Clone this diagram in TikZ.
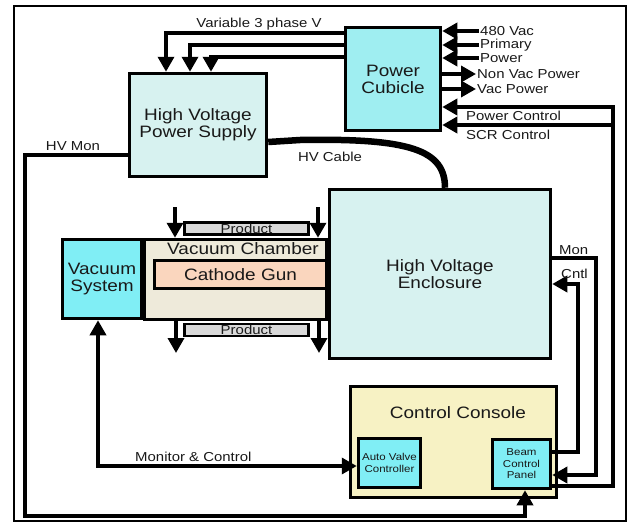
\documentclass[tikz,border=0pt]{standalone}
\usepackage{fontspec}
\setmainfont{Liberation Sans}[FakeStretch=1.15]
\usepackage{tikz}
\usepackage{xcolor}
\usetikzlibrary{arrows.meta}
\definecolor{jasny}{HTML}{D7F2F0}
\definecolor{cyjan}{HTML}{9FEEF1}
\definecolor{turkus}{HTML}{80EEF5}
\definecolor{komora}{HTML}{EEEADA}
\definecolor{katoda}{HTML}{FAD6BE}
\definecolor{produkt}{HTML}{D9D9D9}
\definecolor{konsola}{HTML}{F7F2C4}
\begin{document}
\begin{tikzpicture}[
  x=1pt, y=-1pt,
  >={Triangle[length=15pt,width=16pt]},
  blok/.style={draw, line width=3.5pt, inner sep=0pt, align=center, text=black!90, font=\fontsize{16.5}{17}\selectfont},
  maly/.style={draw, line width=3.5pt, fill=turkus, inner sep=0pt, align=center, text=black!90, font=\fontsize{10}{11.5}\selectfont},
  napis/.style={inner sep=0pt, text=black!90, font=\fontsize{16.5}{17}\selectfont},
  opis/.style={inner sep=1pt, text=black!90, font=\fontsize{13}{14}\selectfont},
  drut/.style={line width=3.5pt},
]
\useasboundingbox (0,0) rectangle (629,522);
\draw[line width=1.5pt] (14,6) rectangle (626,521);
% zasilacz i szafa zasilania
\node[blok, fill=jasny, minimum width=137pt, minimum height=103pt] (HVPS) at (198,125) {High Voltage\\ Power Supply};
\node[blok, fill=cyjan, minimum width=95pt, minimum height=103pt] (PC) at (393,79) {Power\\ Cubicle};
% komora prozniowa z dzialem
\node[blok, fill=komora, minimum width=182pt, minimum height=80pt] (VC) at (235.5,279.5) {};
\node[napis] (VCt) at (243,249) {Vacuum Chamber};
\node[blok, fill=katoda, minimum width=172pt, minimum height=28pt] (CG) at (240.5,274.5) {Cathode Gun};
\node[blok, fill=produkt, line width=2.5pt, minimum width=124pt, minimum height=12pt, text height=9pt, text depth=0pt, font=\fontsize{13}{13}\selectfont] (PT) at (246.5,228.5) {Product};
\node[blok, fill=produkt, line width=2.5pt, minimum width=124pt, minimum height=12pt, text height=9pt, text depth=0pt, font=\fontsize{13}{13}\selectfont] (PB) at (246.5,330) {Product};
\node[blok, fill=turkus, minimum width=79pt, minimum height=79pt] (VS) at (102,279) {Vacuum\\ System};
\node[blok, fill=jasny, minimum width=221pt, minimum height=169pt] (HVE) at (440,274) {High Voltage\\ Enclosure};
% pulpit sterowniczy
\node[blok, fill=konsola, minimum width=206pt, minimum height=111pt] (CC) at (453.5,442) {};
\node[napis] (CCt) at (458,413) {Control Console};
\node[maly, minimum width=62pt, minimum height=49pt] (AVC) at (389.5,463) {Auto Valve\\ Controller};
\node[maly, minimum width=58pt, minimum height=49pt] (BCP) at (521.5,464) {Beam\\ Control\\ Panel};
% trzy fazy do zasilacza
\draw[drut,->] (PC.west |- 0,33) -| (HVPS.north -| 166,0);
\draw[drut,->] (PC.west |- 0,45) -| (HVPS.north -| 190,0);
\draw[drut,->] (PC.west |- 0,57) -| (HVPS.north -| 211,0);
\node[opis] (V3) at (259,24) {Variable 3 phase V};
% wejscia i wyjscia szafy
\node[opis, anchor=west] (V480) at (479,31) {480 Vac};
\node[opis, anchor=west] (PRI) at (479,45) {Primary};
\node[opis, anchor=west] (POW) at (479,58) {Power};
\node[opis, anchor=west] (NVP) at (476,74) {Non Vac Power};
\node[opis, anchor=west] (VP) at (476,89) {Vac Power};
\draw[drut,->] (V480.west) -- (PC.east |- V480.west);
\draw[drut,->] (PRI.west) -- (PC.east |- PRI.west);
\draw[drut,->] (POW.west) -- (PC.east |- POW.west);
\draw[drut,->] (PC.east |- NVP.west) -- (NVP.west);
\draw[drut,->] (PC.east |- VP.west) -- (VP.west);
% kabel WN
\draw[line width=6.5pt] (HVPS.east |- 0,142) -- (300,140) .. controls (410,138) and (445,150) .. (HVE.north -| 445,0);
\node[opis] (HVC) at (330,157) {HV Cable};
% sterowanie od pulpitu
\coordinate (rozg) at (613,125);
\draw[drut,->] (BCP.east |- 0,486) -| (613,107) -- (PC.east |- 0,107);
\draw[drut,->] (rozg) -- (PC.east |- rozg);
\node[opis, anchor=west] (PCtl) at (465,116) {Power Control};
\node[opis, anchor=west] (SCR) at (465,135) {SCR Control};
\draw[drut,->] (HVE.east |- 0,258) -| (596,475) -- (BCP.east |- 0,475);
\draw[drut,->] (BCP.east |- 0,452) -| (578,284) -- (HVE.east |- 0,284);
\node[opis, anchor=west] (MON) at (558,250) {Mon};
\node[opis, anchor=west] (CNT) at (560,274) {Cntl};
% pomiar WN
\draw[drut,->] (HVPS.west |- 0,155) -| (25,516) -| (BCP.south -| 525,0);
\node[opis] (HVM) at (73,146) {HV Mon};
% proznia
\draw[drut,<->] (VS.south -| 98,0) |- (AVC.west |- 0,466);
\node[opis, anchor=west] (MC) at (134,457) {Monitor \& Control};
% produkt: strzalki
\coordinate (p1) at (175,207);
\coordinate (p2) at (318,207);
\coordinate (p3) at (176,353);
\coordinate (p4) at (319,353);
\draw[drut,->] (p1) -- (VC.north -| p1);
\draw[drut,->] (p2) -- (VC.north -| p2);
\draw[drut,->] (VC.south -| p3) -- (p3);
\draw[drut,->] (VC.south -| p4) -- (p4);
\end{tikzpicture}
\end{document}
